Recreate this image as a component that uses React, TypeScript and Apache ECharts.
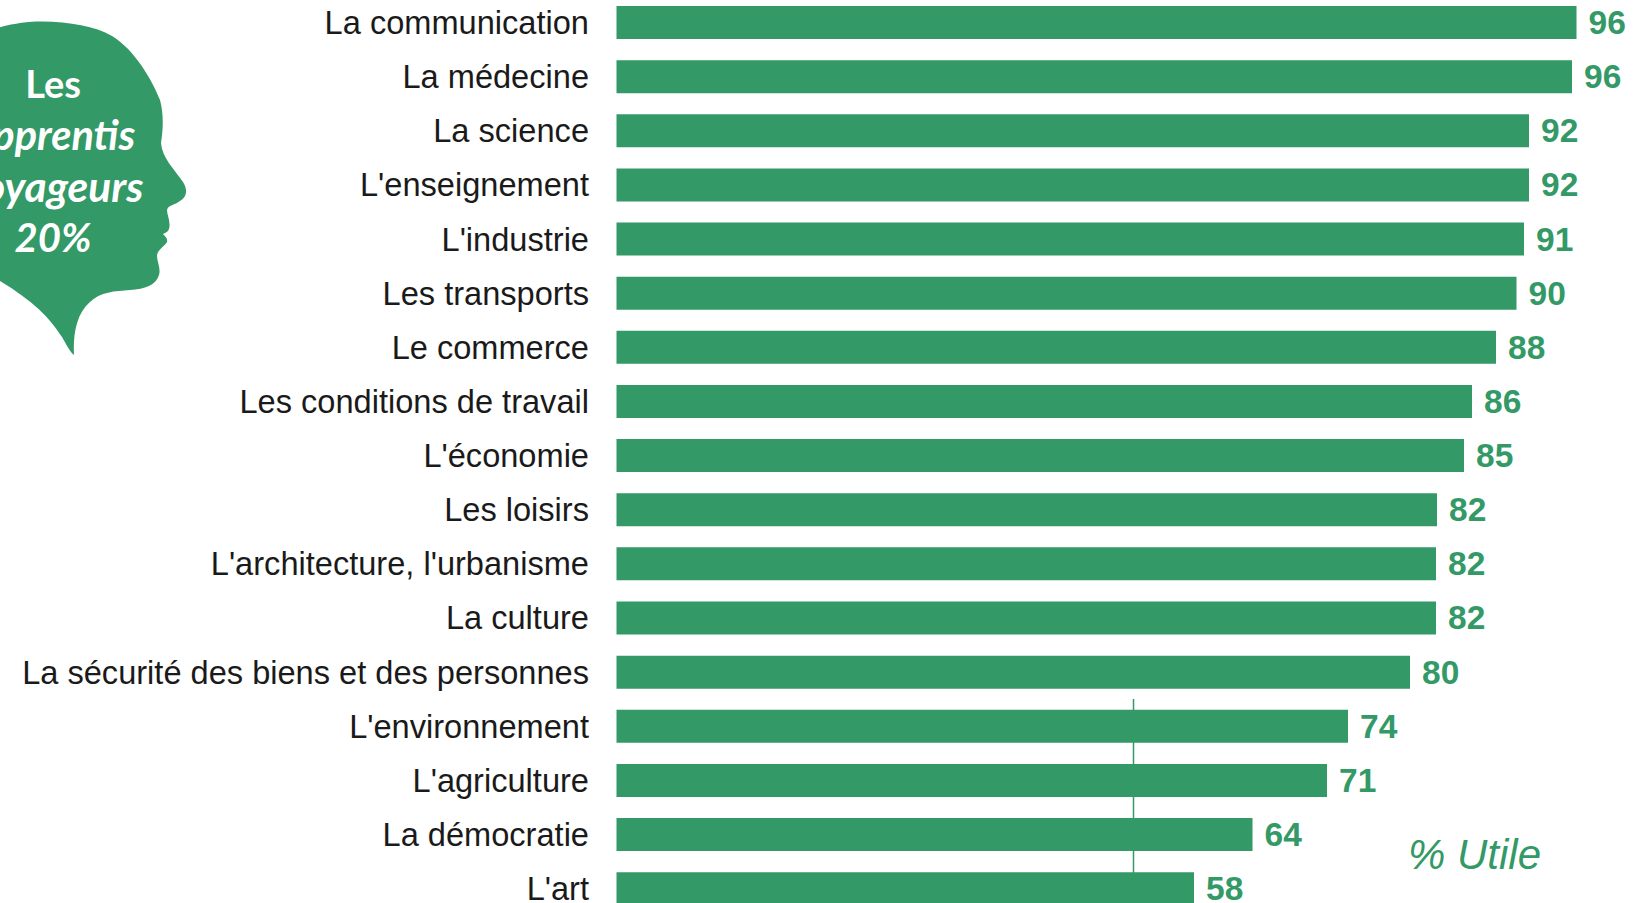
import React, { useEffect, useRef } from "react";
import * as echarts from "echarts";

const categories = [
  "La communication", "La médecine", "La science", "L'enseignement", "L'industrie",
  "Les transports", "Le commerce", "Les conditions de travail", "L'économie", "Les loisirs",
  "L'architecture, l'urbanisme", "La culture", "La sécurité des biens et des personnes",
  "L'environnement", "L'agriculture", "La démocratie", "L'art",
];
// Figures printed next to the bars
const printedValues = [96, 96, 92, 92, 91, 90, 88, 86, 85, 82, 82, 82, 80, 74, 71, 64, 58];
// Bar lengths as drawn in the picture (they do not follow the printed figures exactly)
const drawnLengths = [96, 95.55, 91.25, 91.25, 90.75, 90, 87.95, 85.55, 84.75, 82.05, 81.95, 81.95, 79.35, 73.15, 71.05, 63.6, 57.75];
const referenceLine = [51.7];
const headLines = ["Les", "apprentis", "voyageurs", "20%"];
const headLineSizes = [38, 41.5, 42.5, 40];
const measureName = "% Utile";

const GREEN = "#339966";
const HEAD =
  "M-10 30 C10 24 25 21.5 42 21.5 C70 22 95 26 112 36 C135 50 152 80 160 100 C164 115 163 130 161 143 C162 158 175 170 183 182 C188 190 187 197 180 201 C175 205 168 205 167 210 C167 215 171 222 169 229 C168 232 165 233 163 234 C165 236 168 239 167 242 C165 246 157 250 157 256 C157 262 161 268 159 275 C156 285 145 289 130 290 C115 291 100 292 90 302 C76 314 73 335 74 355 C70 352 66 344 62 337 C48 315 30 298 -10 275 Z";

echarts.graphic.registerShape("headPath", echarts.graphic.extendPath(HEAD as any, {} as any) as any);

// The last row runs past the bottom of the picture, so the canvas is taller and offset.
const OFFSET = 10;

export default function App() {
  const ref = useRef<HTMLDivElement>(null);
  useEffect(() => {
    document.body.style.margin = "0";
    document.body.style.overflow = "hidden";
    const chart = echarts.init(ref.current!, undefined, { renderer: "svg" });
    chart.setOption({
      animation: false,
      backgroundColor: "#ffffff",
      grid: { left: 616.5, top: OFFSET - 4.56, width: 1000, height: 920.3, containLabel: false },
      xAxis: { type: "value", min: 0, max: 100, show: false },
      yAxis: {
        type: "category",
        inverse: true,
        data: categories,
        axisLine: { show: false },
        axisTick: { show: false },
        axisLabel: { fontFamily: "Liberation Sans", fontSize: 32.6, color: "#1a1a1a", margin: 27.5 },
      },
      series: [
        {
          type: "custom",
          data: referenceLine.map((v) => [v]),
          encode: { x: 0 },
          z: 1,
          clip: false,
          renderItem: (_p: any, api: any) => {
            const x = api.coord([api.value(0), 0])[0];
            return { type: "line", shape: { x1: x, y1: OFFSET + 699, x2: x, y2: OFFSET + 903 }, style: { stroke: GREEN, lineWidth: 1.5 } };
          },
        },
        {
          type: "bar",
          data: drawnLengths,
          barWidth: 33,
          z: 2,
          itemStyle: { color: GREEN },
          label: {
            show: true,
            position: "right",
            distance: 12,
            fontFamily: "Liberation Sans",
            fontWeight: "bold",
            fontSize: 33.5,
            color: GREEN,
            formatter: (p: any) => String(printedValues[p.dataIndex]),
          },
        },
      ],
      graphic: [
        { type: "headPath", x: 0, y: OFFSET, style: { fill: GREEN }, z: 5 },
        ...headLines.map((t, i) => ({
          type: "text",
          x: 53,
          y: OFFSET + 83 + i * 51.3,
          z: 6,
          style: {
            text: t,
            fill: "#ffffff",
            fontFamily: "Lato",
            fontWeight: "bold",
            fontStyle: i === 0 ? "normal" : "italic",
            fontSize: headLineSizes[i],
            align: "center",
            verticalAlign: "middle",
          },
        })),
        {
          type: "text",
          x: 1408,
          y: OFFSET + 854,
          z: 6,
          style: {
            text: measureName,
            fill: GREEN,
            fontFamily: "Liberation Sans",
            fontStyle: "italic",
            fontSize: 42,
            align: "left",
            verticalAlign: "middle",
          },
        },
      ],
    });
    return () => chart.dispose();
  }, []);
  return (
    <div style={{ position: "relative", width: 1641, height: 903, overflow: "hidden" }}>
      <div ref={ref} style={{ position: "absolute", left: 0, top: -OFFSET, width: 1641, height: 940 }} />
    </div>
  );
}
